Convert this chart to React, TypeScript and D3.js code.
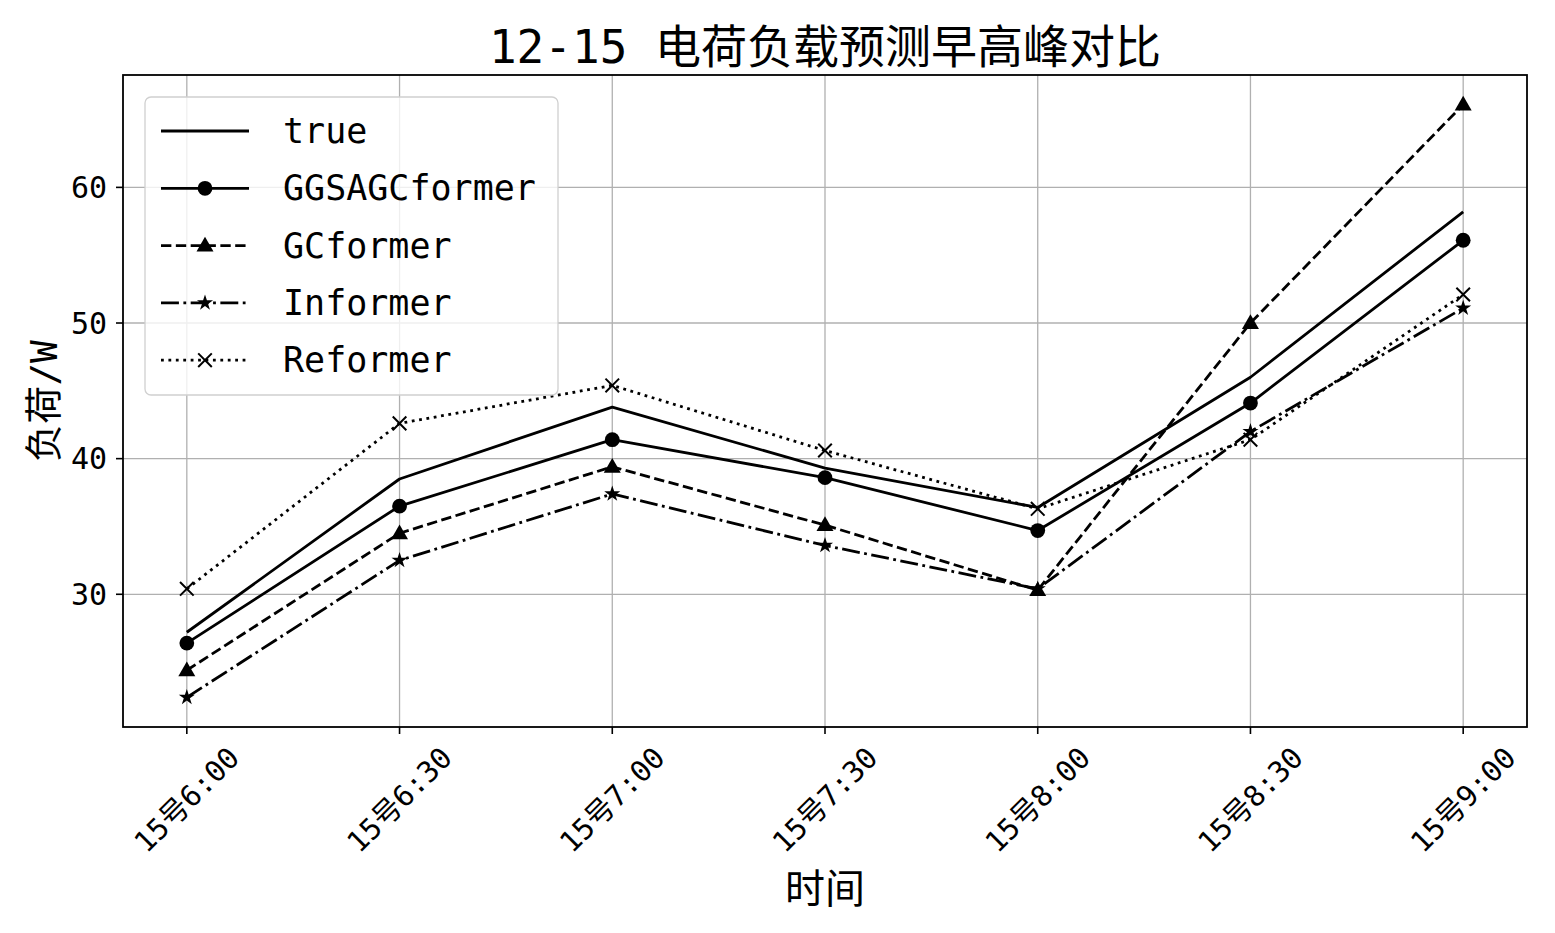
import React, { useEffect, useRef } from "react";
import * as d3 from "d3";

// time slots on the x axis
const times = ["15号6:00", "15号6:30", "15号7:00", "15号7:30", "15号8:00", "15号8:30", "15号9:00"];

// load values
const trueLoad = [27.2, 38.5, 43.8, 39.3, 36.4, 46.0, 58.2];
const ggsagcformer = [26.4, 36.5, 41.4, 38.6, 34.7, 44.1, 56.1];
const gcformer = [24.4, 34.5, 39.4, 35.1, 30.3, 50.0, 66.1];
const informer = [22.4, 32.5, 37.4, 33.6, 30.4, 42.0, 51.1];
const reformer = [30.4, 42.6, 45.4, 40.6, 36.3, 41.4, 52.1];

const yTicks = [30, 40, 50, 60];

const FONT = "'DejaVu Sans Mono', 'Noto Sans CJK SC', sans-serif";

const App = () => {
  const svgRef = useRef(null);

  useEffect(() => {
    document.body.style.margin = "0";

    const width = 1555;
    const height = 933;
    const margin = { top: 75, right: 28, bottom: 206, left: 123 };
    const lw = 2.8;

    const svg = d3.select(svgRef.current);
    svg.selectAll("*").remove();
    svg.attr("width", width).attr("height", height);

    const series = [
      { name: "true", values: trueLoad, dash: null, marker: null },
      { name: "GGSAGCformer", values: ggsagcformer, dash: null, marker: "circle" },
      { name: "GCformer", values: gcformer, dash: `${3.7 * lw},${1.6 * lw}`, marker: "triangle" },
      { name: "Informer", values: informer, dash: `${6.4 * lw},${1.6 * lw},${1 * lw},${1.6 * lw}`, marker: "star" },
      { name: "Reformer", values: reformer, dash: `${1 * lw},${1.65 * lw}`, marker: "x" },
    ];

    const all = series.flatMap((s) => s.values);
    const lo = d3.min(all);
    const hi = d3.max(all);
    const pad = (hi - lo) * 0.05;

    const x = d3
      .scaleLinear()
      .domain([-0.3, times.length - 1 + 0.3])
      .range([margin.left, width - margin.right]);

    const y = d3
      .scaleLinear()
      .domain([lo - pad, hi + pad])
      .range([height - margin.bottom, margin.top]);

    const plotLeft = margin.left;
    const plotRight = width - margin.right;
    const plotTop = margin.top;
    const plotBottom = height - margin.bottom;

    // grid
    const grid = svg.append("g").attr("stroke", "#b0b0b0").attr("stroke-width", 1.3);
    times.forEach((t, i) => {
      grid.append("line").attr("x1", x(i)).attr("x2", x(i)).attr("y1", plotTop).attr("y2", plotBottom);
    });
    yTicks.forEach((v) => {
      grid.append("line").attr("x1", plotLeft).attr("x2", plotRight).attr("y1", y(v)).attr("y2", y(v));
    });

    // markers
    const drawMarker = (g, kind, cx, cy) => {
      if (kind === "circle") {
        g.append("circle").attr("cx", cx).attr("cy", cy).attr("r", 7.4).attr("fill", "#000");
      } else if (kind === "triangle") {
        g.append("path")
          .attr("d", d3.symbol(d3.symbolTriangle, 125)())
          .attr("transform", `translate(${cx},${cy + 1})`)
          .attr("fill", "#000");
      } else if (kind === "star") {
        g.append("path")
          .attr("d", d3.symbol(d3.symbolStar, 80)())
          .attr("transform", `translate(${cx},${cy})`)
          .attr("fill", "#000");
      } else if (kind === "x") {
        const r = 6.8;
        const p = d3.path();
        p.moveTo(cx - r, cy - r);
        p.lineTo(cx + r, cy + r);
        p.moveTo(cx - r, cy + r);
        p.lineTo(cx + r, cy - r);
        g.append("path").attr("d", p.toString()).attr("stroke", "#000").attr("stroke-width", 2).attr("fill", "none");
      }
    };

    const line = d3
      .line()
      .x((d, i) => x(i))
      .y((d) => y(d));

    series.forEach((s) => {
      const g = svg.append("g");
      g.append("path")
        .datum(s.values)
        .attr("d", line)
        .attr("fill", "none")
        .attr("stroke", "#000")
        .attr("stroke-width", lw)
        .attr("stroke-dasharray", s.dash)
        .attr("stroke-linejoin", "round");
      if (s.marker) {
        s.values.forEach((v, i) => drawMarker(g, s.marker, x(i), y(v)));
      }
    });

    // frame
    svg
      .append("rect")
      .attr("x", plotLeft)
      .attr("y", plotTop)
      .attr("width", plotRight - plotLeft)
      .attr("height", plotBottom - plotTop)
      .attr("fill", "none")
      .attr("stroke", "#000")
      .attr("stroke-width", 1.8);

    // y axis
    const yAxis = svg.append("g");
    yTicks.forEach((v) => {
      yAxis.append("line").attr("x1", plotLeft - 7).attr("x2", plotLeft).attr("y1", y(v)).attr("y2", y(v)).attr("stroke", "#000").attr("stroke-width", 1.6);
      yAxis
        .append("text")
        .attr("x", plotLeft - 16)
        .attr("y", y(v))
        .attr("text-anchor", "end")
        .attr("dominant-baseline", "central")
        .attr("font-family", FONT)
        .attr("font-size", 30)
        .text(v);
    });

    // x axis
    const xAxis = svg.append("g");
    times.forEach((t, i) => {
      xAxis.append("line").attr("x1", x(i)).attr("x2", x(i)).attr("y1", plotBottom).attr("y2", plotBottom + 7).attr("stroke", "#000").attr("stroke-width", 1.6);
      xAxis
        .append("text")
        .attr("transform", `translate(${x(i)},${plotBottom + 73}) rotate(-45)`)
        .attr("text-anchor", "middle")
        .attr("dominant-baseline", "central")
        .attr("font-family", FONT)
        .attr("font-size", 29)
        .text(t);
    });

    // labels
    svg
      .append("text")
      .attr("x", (plotLeft + plotRight) / 2)
      .attr("y", 47)
      .attr("text-anchor", "middle")
      .attr("dominant-baseline", "central")
      .attr("font-family", FONT)
      .attr("font-size", 46)
      .text("12-15 电荷负载预测早高峰对比");

    svg
      .append("text")
      .attr("x", (plotLeft + plotRight) / 2)
      .attr("y", 889)
      .attr("text-anchor", "middle")
      .attr("dominant-baseline", "central")
      .attr("font-family", FONT)
      .attr("font-size", 40)
      .text("时间");

    svg
      .append("text")
      .attr("transform", `translate(44,${(plotTop + plotBottom) / 2}) rotate(-90)`)
      .attr("text-anchor", "middle")
      .attr("dominant-baseline", "central")
      .attr("font-family", FONT)
      .attr("font-size", 38)
      .text("负荷/W");

    // legend
    const legend = svg.append("g");
    legend
      .append("rect")
      .attr("x", 145)
      .attr("y", 97)
      .attr("width", 413)
      .attr("height", 298)
      .attr("rx", 6)
      .attr("fill", "#fff")
      .attr("fill-opacity", 0.8)
      .attr("stroke", "#d0d0d0")
      .attr("stroke-width", 1.3);

    series.forEach((s, i) => {
      const cy = 131 + i * 57.3;
      legend
        .append("line")
        .attr("x1", 161)
        .attr("x2", 249)
        .attr("y1", cy)
        .attr("y2", cy)
        .attr("stroke", "#000")
        .attr("stroke-width", lw)
        .attr("stroke-dasharray", s.dash);
      if (s.marker) drawMarker(legend, s.marker, 205, cy);
      legend
        .append("text")
        .attr("x", 283)
        .attr("y", cy)
        .attr("dominant-baseline", "central")
        .attr("font-family", FONT)
        .attr("font-size", 35)
        .text(s.name);
    });
  }, []);

  return <svg ref={svgRef} style={{ display: "block" }} />;
};

export default App;
